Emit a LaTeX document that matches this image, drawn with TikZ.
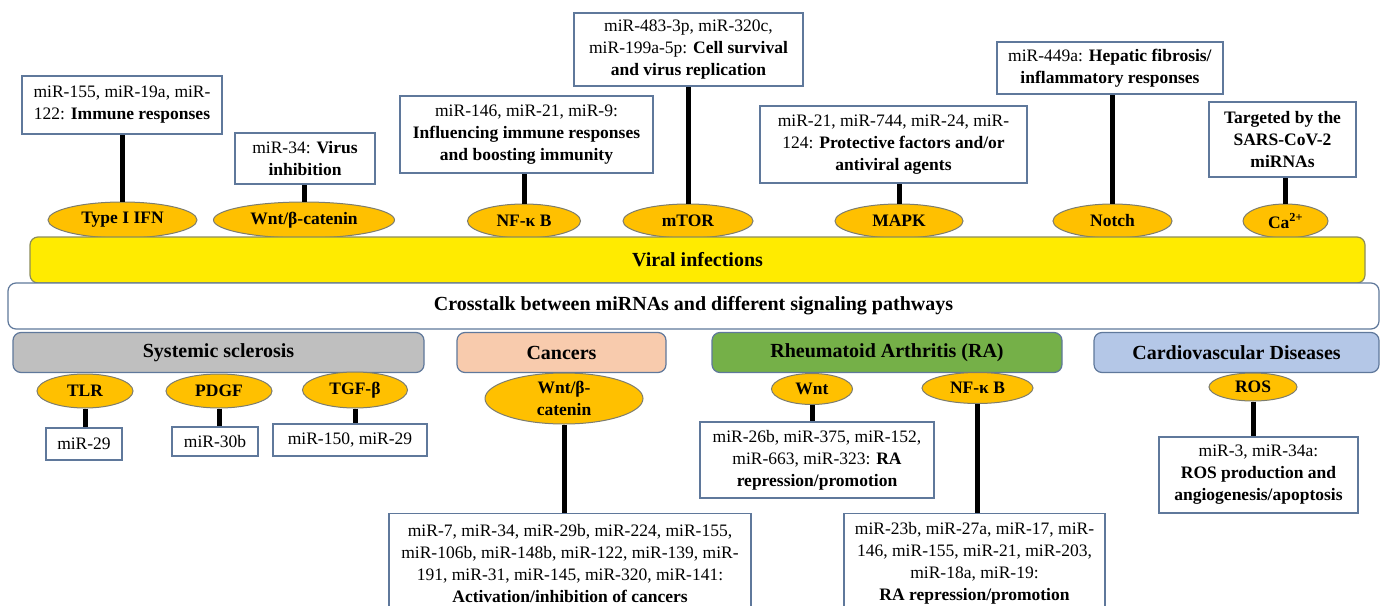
\documentclass[tikz,border=0pt]{standalone}
\usepackage{fontspec}
\setmainfont{Liberation Serif}
\usetikzlibrary{shapes.geometric}
\definecolor{ellfill}{RGB}{255,192,0}
\definecolor{ellline}{RGB}{125,125,110}
\definecolor{boxline}{RGB}{95,120,155}
\definecolor{yelfill}{RGB}{255,235,0}
\definecolor{yelline}{RGB}{140,140,90}
\definecolor{ssfill}{RGB}{191,191,191}
\definecolor{cafill}{RGB}{248,203,173}
\definecolor{rafill}{RGB}{117,176,72}
\definecolor{cvfill}{RGB}{180,199,231}
\newcommand{\bxfont}{\fontsize{17.5}{22}\selectfont}
\newcommand{\elfont}{\fontsize{17.5}{20}\selectfont\bfseries}
\newcommand{\brfont}{\fontsize{20}{24}\selectfont\bfseries}
\begin{document}
\begin{tikzpicture}[x=1pt,y=-1pt,
  mbox/.style={draw=boxline, line width=1.3pt, fill=white, align=center, inner sep=0pt, font=\bxfont},
  pell/.style={ellipse, draw=ellline, line width=1pt, fill=ellfill, inner sep=0pt, align=center, font=\elfont},
  bar/.style={rounded corners=8pt, draw=boxline, line width=1.2pt, inner sep=0pt, font=\brfont},
  stem/.style={line width=5pt, draw=black}]
\useasboundingbox (0,0) rectangle (1381,605);
\clip (0,0) rectangle (1381,605);
\fill[white] (0,0) rectangle (1381,605);

% ---- top boxes
\node[mbox, minimum width=200, minimum height=58] (b1) at (122,105) {miR-155, miR-19a, miR-\\122: \textbf{Immune responses}};
\node[mbox, minimum width=140, minimum height=51] (b2) at (305,158.5) {miR-34: \textbf{Virus}\\\textbf{inhibition}};
\node[mbox, minimum width=253, minimum height=77] (b3) at (526.5,134.5) {miR-146, miR-21, miR-9:\\\textbf{Influencing immune responses}\\\textbf{and boosting immunity}};
\node[mbox, minimum width=229, minimum height=73] (b4) at (688.5,49.5) {miR-483-3p, miR-320c,\\miR-199a-5p: \textbf{Cell survival}\\\textbf{and virus replication}};
\node[mbox, minimum width=267, minimum height=77] (b5) at (893.5,144.5) {miR-21, miR-744, miR-24, miR-\\124: \textbf{Protective factors and/or}\\\textbf{antiviral agents}};
\node[mbox, minimum width=226, minimum height=52] (b6) at (1110,68) {miR-449a: \textbf{Hepatic fibrosis/}\\\textbf{inflammatory responses}};
\node[mbox, minimum width=147, minimum height=75] (b7) at (1282.5,139.5) {\textbf{Targeted by the}\\\textbf{SARS-CoV-2}\\\textbf{miRNAs}};

% ---- top ellipses
\node[pell, minimum width=149, minimum height=36] (e1) at (122.5,220) {Type I IFN};
\node[pell, minimum width=181, minimum height=36] (e2) at (304,220) {Wnt/β-catenin};
\node[pell, minimum width=113, minimum height=34] (e3) at (524,221) {NF-κ B};
\node[pell, minimum width=130, minimum height=34] (e4) at (688,221) {mTOR};
\node[pell, minimum width=128, minimum height=34] (e5) at (899,221) {MAPK};
\node[pell, minimum width=119, minimum height=34] (e6) at (1112.5,221) {Notch};
\node[pell, minimum width=85, minimum height=34] (e7) at (1285.5,221) {Ca\textsuperscript{2+}};

\foreach \e/\b in {e1/b1,e2/b2,e3/b3,e4/b4,e5/b5,e6/b6,e7/b7}
  \draw[stem] (\e.north) -- (\e.north |- \b.south);

% ---- central bars
\node[bar, fill=yelfill, draw=yelline, minimum width=1335, minimum height=46] (viral) at (697.5,260) {Viral infections};
\node[bar, fill=white, minimum width=1371, minimum height=46] (cross) at (693.5,306) {Crosstalk between miRNAs and different signaling pathways};

% ---- disease bars
\node[bar, fill=ssfill, minimum width=411, minimum height=40] (ss) at (218.5,352.5) {Systemic sclerosis};
\node[bar, fill=cafill, minimum width=209, minimum height=40] (ca) at (561.5,352.5) {Cancers};
\node[bar, fill=rafill, minimum width=350, minimum height=40] (ra) at (887,352.5) {Rheumatoid Arthritis (RA)};
\node[bar, fill=cvfill, minimum width=285, minimum height=40] (cv) at (1236.5,352.5) {Cardiovascular Diseases};

% ---- bottom ellipses
\node[pell, minimum width=96, minimum height=34] (f1) at (85,391) {TLR};
\node[pell, minimum width=106, minimum height=34] (f2) at (219,391) {PDGF};
\node[pell, minimum width=105, minimum height=36] (f3) at (355,390) {TGF-β};
\node[pell, minimum width=158, minimum height=51, font=\fontsize{17.5}{22}\selectfont\bfseries] (f4) at (564,398.5) {Wnt/β-\\catenin};
\node[pell, minimum width=81, minimum height=31] (f5) at (812,389) {Wnt};
\node[pell, minimum width=111, minimum height=31] (f6) at (977.5,388) {NF-κ B};
\node[pell, minimum width=88, minimum height=28] (f7) at (1253,387) {ROS};

% ---- bottom boxes
\node[mbox, minimum width=76, minimum height=32] (g1) at (84,444) {miR-29};
\node[mbox, minimum width=86, minimum height=29] (g2) at (215,441.5) {miR-30b};
\node[mbox, minimum width=154, minimum height=32] (g3) at (350,440) {miR-150, miR-29};
\node[mbox, minimum width=362, anchor=north, inner ysep=11pt] (g4) at (570,513) {miR-7, miR-34, miR-29b, miR-224, miR-155,\\miR-106b, miR-148b, miR-122, miR-139, miR-\\191, miR-31, miR-145, miR-320, miR-141:\\\textbf{Activation/inhibition of cancers}\\[6pt]};
\node[mbox, minimum width=234, minimum height=76] (g5) at (817,460) {miR-26b, miR-375, miR-152,\\miR-663, miR-323: \textbf{RA}\\\textbf{repression/promotion}};
\node[mbox, minimum width=261, anchor=north, inner ysep=9pt] (g6) at (974.5,513) {miR-23b, miR-27a, miR-17, miR-\\146, miR-155, miR-21, miR-203,\\miR-18a, miR-19:\\\textbf{RA repression/promotion}\\[6pt]};
\node[mbox, minimum width=199, minimum height=76] (g7) at (1258.5,475) {miR-3, miR-34a:\\\textbf{ROS production and}\\\textbf{angiogenesis/apoptosis}};

\foreach \f/\g in {f1/g1,f2/g2,f3/g3,f4/g4,f5/g5,f6/g6,f7/g7}
  \draw[stem] (\f.south) -- (\f.south |- \g.north);
\end{tikzpicture}
\end{document}
